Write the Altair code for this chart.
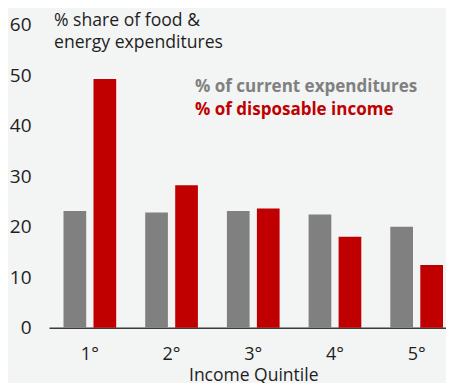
import altair as alt
import pandas as pd

quintiles = ["1°", "2°", "3°", "4°", "5°"]
series = ["% of current expenditures", "% of disposable income"]
current_exp = [23.1, 22.8, 23.1, 22.4, 20.0]
disp_income = [49.2, 28.2, 23.6, 18.0, 12.4]
y_ticks = [0, 10, 20, 30, 40, 50, 60]
title_lines = ["% share of food &", "energy expenditures"]
colors = ["#808080", "#c00000"]

rows = []
for q, a, b in zip(quintiles, current_exp, disp_income):
    rows.append({"quintile": q, "series": series[0], "value": a})
    rows.append({"quintile": q, "series": series[1], "value": b})
df = pd.DataFrame(rows)

FONT = "Open Sans"
TXT = "#1e1e1e"

bars = alt.Chart(df).mark_bar().encode(
    x=alt.X(
        "quintile:N", sort=quintiles,
        scale=alt.Scale(paddingInner=0, paddingOuter=0),
        axis=alt.Axis(title="Income Quintile", labelAngle=0, ticks=False, domain=True,
                      domainColor="#3a3a3a", domainWidth=1.5, labelPadding=18, titlePadding=2.5,
                      labelFontSize=18, titleFontSize=17.5, labelFont=FONT, titleFont=FONT,
                      titleFontWeight="normal", labelColor=TXT, titleColor=TXT),
    ),
    xOffset=alt.XOffset("series:N", sort=series,
                        scale=alt.Scale(paddingInner=0.2433, paddingOuter=0.4833)),
    y=alt.Y(
        "value:Q", scale=alt.Scale(domain=[0, 60], nice=False),
        axis=alt.Axis(values=y_ticks, title=None, grid=False, domain=False, ticks=False,
                      labelPadding=18, labelFontSize=19, labelFont=FONT, labelColor=TXT),
    ),
    color=alt.Color("series:N", scale=alt.Scale(domain=series, range=colors), legend=None),
)

t1 = alt.Chart(pd.DataFrame({"t": [title_lines[0]]})).mark_text(
    align="left", baseline="alphabetic", font=FONT, fontSize=17.6, color=TXT
).encode(text="t:N", x=alt.value(5), y=alt.value(1.5))
t2 = alt.Chart(pd.DataFrame({"t": [title_lines[1]]})).mark_text(
    align="left", baseline="alphabetic", font=FONT, fontSize=17.6, color=TXT
).encode(text="t:N", x=alt.value(5), y=alt.value(23.8))

l1 = alt.Chart(pd.DataFrame({"t": [series[0]]})).mark_text(
    align="left", baseline="alphabetic", font=FONT, fontSize=17, fontWeight="bold", color=colors[0]
).encode(text="t:N", x=alt.value(146), y=alt.value(67.3))
l2 = alt.Chart(pd.DataFrame({"t": [series[1]]})).mark_text(
    align="left", baseline="alphabetic", font=FONT, fontSize=17, fontWeight="bold", color=colors[1]
).encode(text="t:N", x=alt.value(146), y=alt.value(90.5))

chart = alt.layer(bars, t1, t2, l1, l2).properties(
    width=408.5, height=303.2,
    background="#f3f4f4",
    autosize=alt.AutoSizeParams(type="none"),
    padding={"left": 41, "top": 16.5, "right": -11.5, "bottom": 59.3},
).configure_view(stroke=None)

chart.save("out.html", embed_options={"renderer": "svg", "actions": False})
